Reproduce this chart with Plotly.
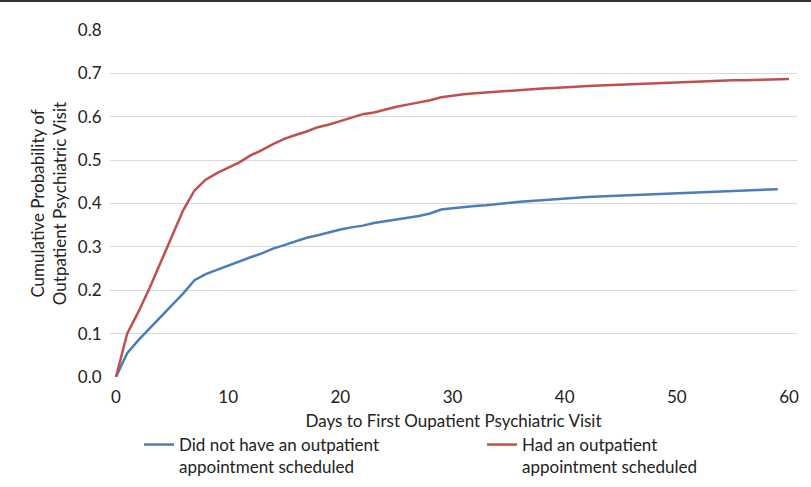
import plotly.graph_objects as go

days_red = list(range(0, 61))
had_appt = [0.000, 0.100, 0.150, 0.205, 0.265, 0.325, 0.385, 0.430, 0.455, 0.470,
            0.483, 0.495, 0.511, 0.523, 0.537, 0.549, 0.558, 0.566, 0.576, 0.582,
            0.590, 0.598, 0.606, 0.610, 0.617, 0.623, 0.628, 0.633, 0.638, 0.645,
            0.649, 0.652, 0.654, 0.656, 0.658, 0.660, 0.662, 0.664, 0.665, 0.666,
            0.667, 0.669, 0.671, 0.672, 0.673, 0.674, 0.675, 0.677, 0.678, 0.678,
            0.679, 0.680, 0.681, 0.682, 0.683, 0.684, 0.684, 0.685, 0.686, 0.686,
            0.687]

days_blue = list(range(0, 60))
no_appt = [0.000, 0.055, 0.085, 0.112, 0.140, 0.165, 0.193, 0.223, 0.237, 0.247,
           0.257, 0.266, 0.276, 0.285, 0.296, 0.304, 0.312, 0.321, 0.327, 0.334,
           0.340, 0.345, 0.349, 0.355, 0.359, 0.362, 0.367, 0.371, 0.377, 0.386,
           0.389, 0.392, 0.394, 0.396, 0.399, 0.402, 0.404, 0.406, 0.408, 0.410,
           0.412, 0.413, 0.415, 0.416, 0.417, 0.418, 0.419, 0.420, 0.421, 0.423,
           0.424, 0.425, 0.426, 0.426, 0.427, 0.428, 0.429, 0.431, 0.432, 0.433]

x_ticks = [0, 10, 20, 30, 40, 50, 60]
y_ticks = [0.0, 0.1, 0.2, 0.3, 0.4, 0.5, 0.6, 0.7, 0.8]
y_tick_labels = ["0.0", "0.1", "0.2", "0.3", "0.4", "0.5", "0.6", "0.7", "0.8"]

FONT = "Lato, 'Open Sans', sans-serif"
W, H = 811, 487
ML, MR, MT, MB = 110, 14, 30, 110
pw = W - ML - MR
ph = H - MT - MB


def px_x(px):
    return (px - ML) / pw


def px_y(py):
    return (H - MB - py) / ph


fig = go.Figure()
fig.add_trace(go.Scatter(
    x=days_blue, y=no_appt, mode="lines",
    name="Did not have an outpatient<br>appointment scheduled",
    line=dict(color="#4A7EBB", width=2.5), legend="legend", showlegend=True))
fig.add_trace(go.Scatter(
    x=days_red, y=had_appt, mode="lines",
    name="Had an outpatient<br>appointment scheduled",
    line=dict(color="#C0504D", width=2.5), legend="legend2", showlegend=True))

leg_common = dict(orientation="v", xanchor="left", yanchor="top",
                  valign="top", font=dict(size=17, color="#222222"),
                  bgcolor="rgba(0,0,0,0)", itemwidth=30)

fig.update_layout(
    width=W, height=H,
    showlegend=True,
    margin=dict(l=ML, r=MR, t=MT, b=MB, pad=0, autoexpand=False),
    paper_bgcolor="white", plot_bgcolor="white",
    font=dict(family=FONT, size=17, color="#222222"),
    xaxis=dict(range=[-0.53, 60.71], tickvals=x_ticks, showgrid=False,
               zeroline=False, showline=False, ticks="outside", ticklen=5,
               tickcolor="rgba(0,0,0,0)", automargin=False,
               tickfont=dict(size=17, color="#222222"),
               title=dict(text="Days to First Oupatient Psychiatric Visit",
                          font=dict(size=17, color="#222222"), standoff=8)),
    yaxis=dict(range=[0, 0.8], tickvals=y_ticks, ticktext=y_tick_labels,
               showgrid=True, gridcolor="#D9D9D9", gridwidth=1,
               zeroline=False, showline=False, ticks="outside",
               ticklen=4, tickcolor="rgba(0,0,0,0)", automargin=False,
               tickfont=dict(size=17, color="#222222"),
               title=dict(text="Cumulative Probability of<br>Outpatient Psychiatric Visit",
                          font=dict(size=17, color="#222222"), standoff=6)),
    legend=dict(x=px_x(139), y=px_y(427), **leg_common),
    legend2=dict(x=px_x(482), y=px_y(427), **leg_common),
    shapes=[dict(type="line", xref="paper", yref="paper",
                 x0=-ML / pw, x1=1 + MR / pw,
                 y0=px_y(1), y1=px_y(1),
                 line=dict(color="#333333", width=2))],
)

fig.write_html("out.html", config={"displayModeBar": False},
               post_script="document.body.style.margin='0px';document.body.style.padding='0px';")
